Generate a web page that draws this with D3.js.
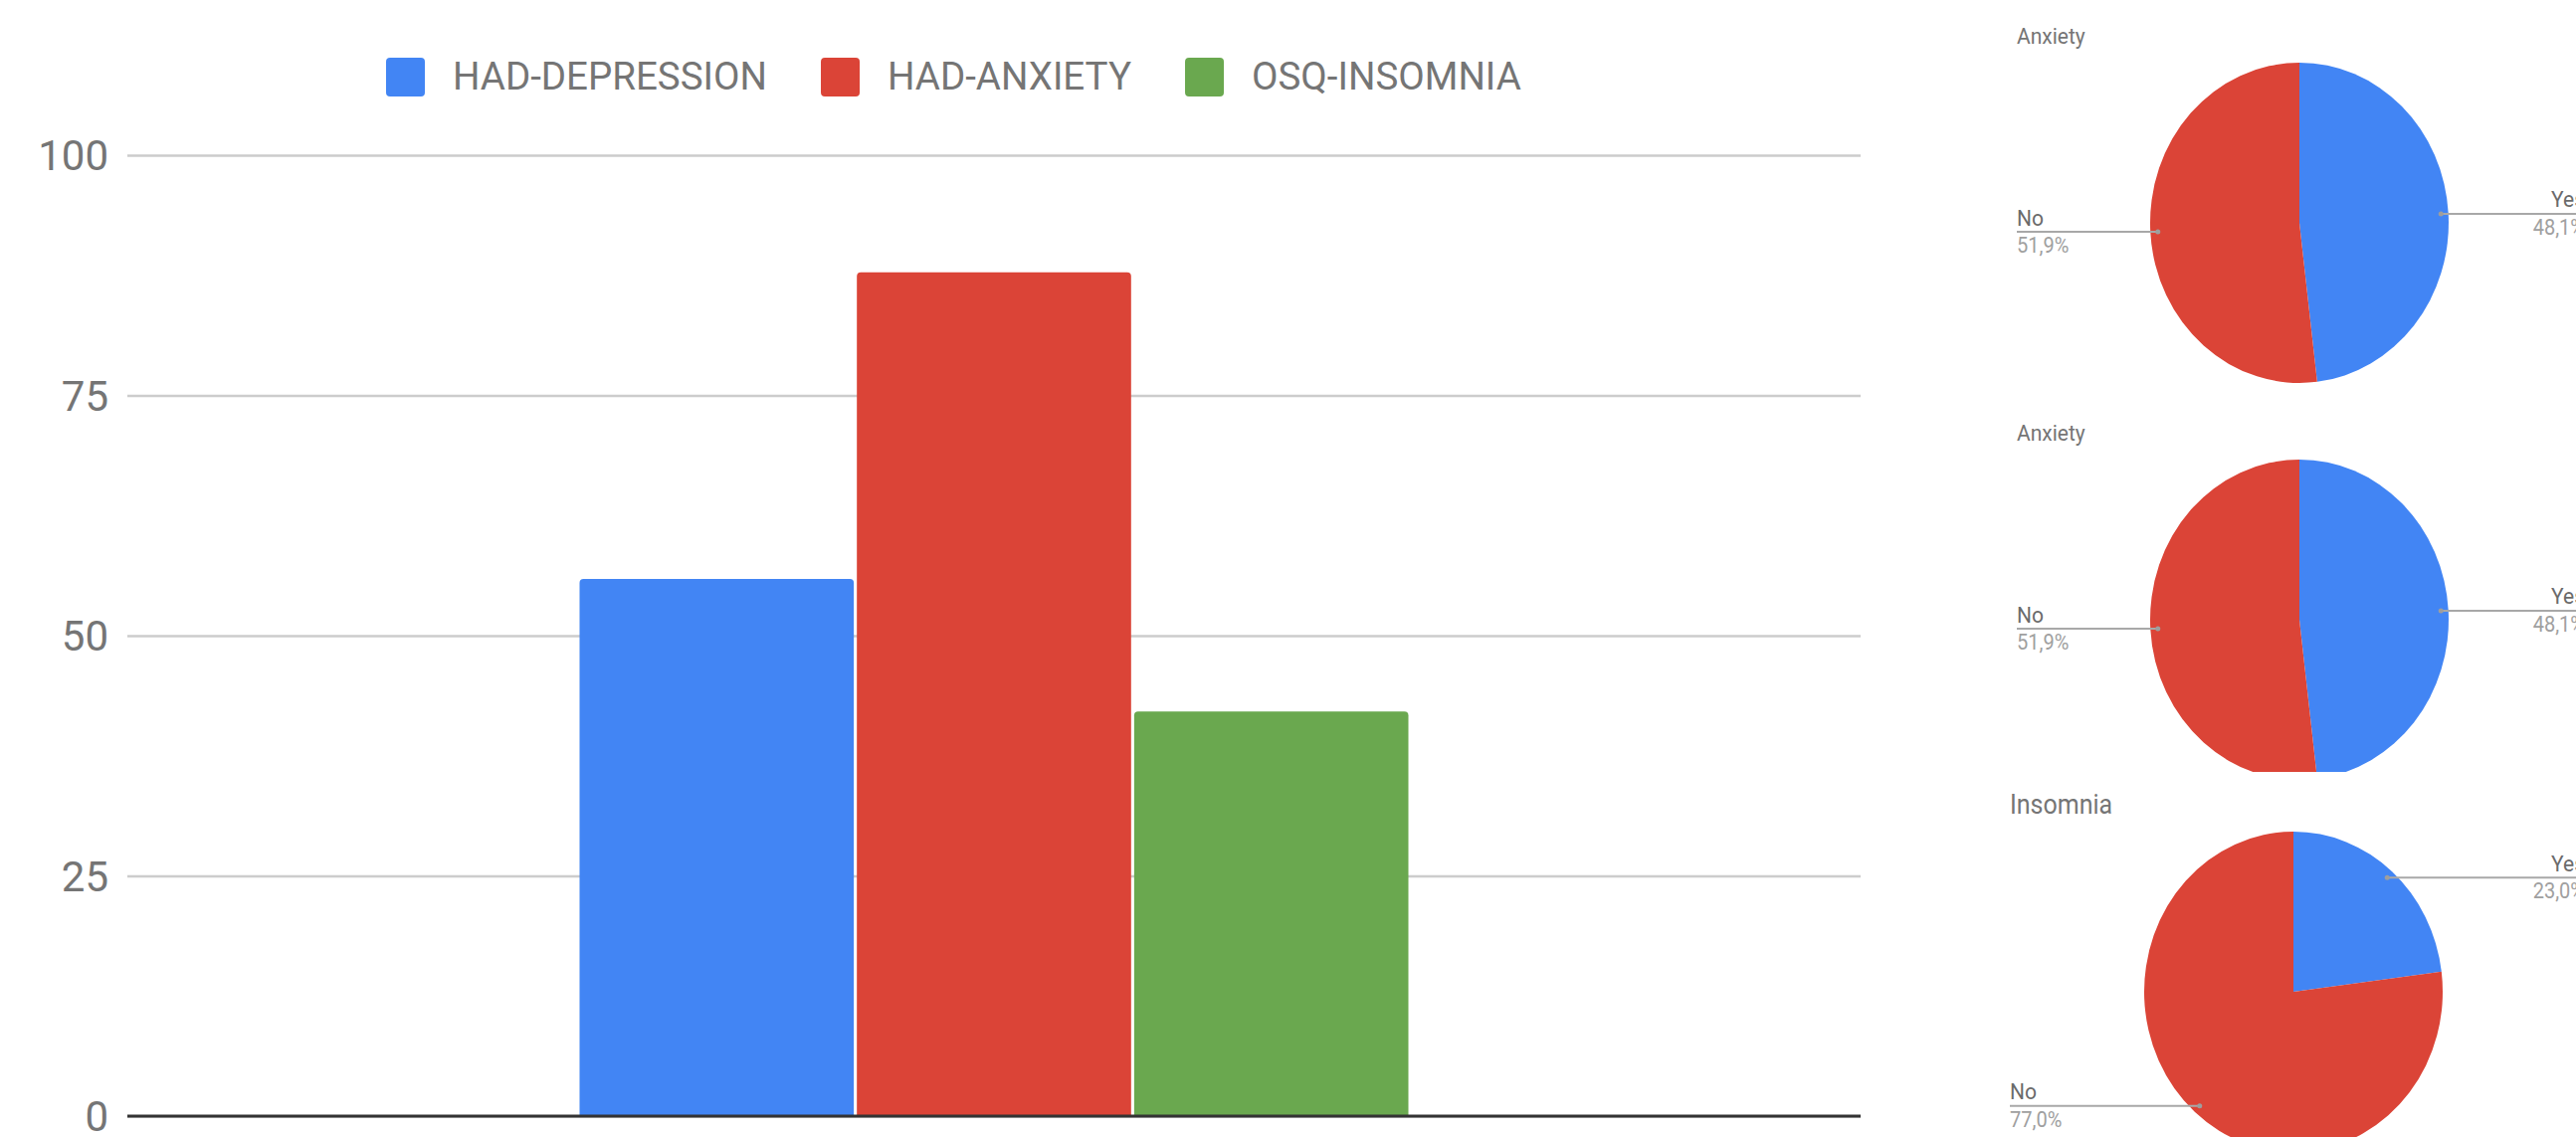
<!DOCTYPE html>
<html>
<head>
<meta charset="utf-8">
<script src="https://cdn.jsdelivr.net/npm/d3@7/dist/d3.min.js"></script>
<style>
  html, body { margin: 0; padding: 0; background: #fff; }
  svg { display: block; font-family: Roboto, "Noto Sans", sans-serif; }
</style>
</head>
<body>
<svg id="chart" width="2589" height="1143"></svg>
<script>
// ---- bar chart data ----
const barCategories = [""];
const seriesNames = ["HAD-DEPRESSION", "HAD-ANXIETY", "OSQ-INSOMNIA"];
const seriesValues = [55.9, 87.8, 42.1];
const seriesColors = ["#4285F4", "#DB4437", "#6AA84F"];
const yTicks = [0, 25, 50, 75, 100];

// ---- pie chart data ----
const pieTitles = ["Anxiety", "Anxiety", "Insomnia"];
const pieSliceNames = ["Yes", "No"];
const pieYes = [48.1, 48.1, 23.0];
const pieNo = [51.9, 51.9, 77.0];
const pieColors = ["#4285F4", "#DB4437"];

const svg = d3.select("#chart");

// ================= bar chart =================
const plot = { left: 128, right: 1870, top: 156, bottom: 1122 };

const y = d3.scaleLinear().domain([0, 100]).range([plot.bottom, plot.top]);
const x0 = d3.scaleBand().domain(barCategories)
  .range([plot.left, plot.right]).paddingInner(0).paddingOuter(0.5456);
const x1 = d3.scaleBand().domain(seriesNames)
  .range([0, x0.bandwidth()]).paddingInner(0.011);
const color = d3.scaleOrdinal().domain(seriesNames).range(seriesColors);

// gridlines and tick labels
const yAxis = d3.axisLeft(y).tickValues(yTicks)
  .tickSize(-(plot.right - plot.left)).tickPadding(19)
  .tickFormat(d3.format("d"));
const gy = svg.append("g")
  .attr("transform", `translate(${plot.left},0)`)
  .call(yAxis);
gy.select(".domain").remove();
gy.selectAll(".tick line").attr("stroke", "#cccccc").attr("stroke-width", 2.7);
gy.selectAll(".tick text")
  .attr("fill", "#757575").attr("font-size", 42)
  .attr("font-family", "Roboto, sans-serif")
  .attr("dy", "0.35em");

// bars with slightly rounded tops
function topRounded(x, yTop, w, h, r) {
  r = Math.min(r, w / 2, h);
  return `M${x},${yTop + h}V${yTop + r}Q${x},${yTop} ${x + r},${yTop}` +
         `H${x + w - r}Q${x + w},${yTop} ${x + w},${yTop + r}V${yTop + h}Z`;
}
const barData = seriesNames.map((name, i) => ({ cat: barCategories[0], name, value: seriesValues[i] }));
svg.append("g").selectAll("path")
  .data(barData)
  .join("path")
  .attr("fill", d => color(d.name))
  .attr("d", d => {
    const bx = x0(d.cat) + x1(d.name);
    return topRounded(bx, y(d.value), x1.bandwidth(), y(0) - y(d.value), 4);
  });

// baseline
svg.append("line")
  .attr("x1", plot.left).attr("x2", plot.right)
  .attr("y1", y(0)).attr("y2", y(0))
  .attr("stroke", "#333").attr("stroke-width", 3);

// legend
const legend = svg.append("g").attr("transform", "translate(388,58)");
let lx = 0;
seriesNames.forEach(name => {
  const item = legend.append("g").attr("transform", `translate(${lx},0)`);
  item.append("rect").attr("width", 39).attr("height", 39).attr("rx", 4)
    .attr("fill", color(name));
  const t = item.append("text").attr("x", 67).attr("y", 32)
    .attr("fill", "#757575").attr("font-size", 38.5).text(name);
  lx += 67 + t.node().getComputedTextLength() + 54;
});

// ================= pie charts =================
const pies = [
  { cx: 2311, cy: 224, titleX: 2027, titleY: 44, titleSize: 21, labelX: 2027, clipTop: 0, clipBottom: 400 },
  { cx: 2311, cy: 623, titleX: 2027, titleY: 443, titleSize: 21, labelX: 2027, clipTop: 400, clipBottom: 776 },
  { cx: 2305, cy: 997, titleX: 2020, titleY: 818, titleSize: 25, labelX: 2020, clipTop: 776, clipBottom: 1143 }
];
const rx = 150, ry = 161;
const stretch = ry / rx;
const pieGen = d3.pie().sort(null).value(d => d.value);
const arcGen = d3.arc().innerRadius(0).outerRadius(rx);
const fmtPct = v => d3.format(".1f")(v).replace(".", ",") + "%";

// text drawn with the same vertical stretch as the pies
function stretchedText(parent, x, yPos, str, size, fill, anchor) {
  return parent.append("text")
    .attr("transform", `translate(${x},${yPos}) scale(1,${stretch})`)
    .attr("text-anchor", anchor || "start")
    .attr("fill", fill).attr("font-size", size).text(str);
}

pies.forEach((p, i) => {
  const data = [
    { name: pieSliceNames[0], value: pieYes[i], color: pieColors[0] },
    { name: pieSliceNames[1], value: pieNo[i], color: pieColors[1] }
  ];
  const clipId = "pieclip" + i;
  svg.append("clipPath").attr("id", clipId)
    .append("rect").attr("x", 1930).attr("y", p.clipTop)
    .attr("width", 700).attr("height", p.clipBottom - p.clipTop);
  const panel = svg.append("g").attr("clip-path", `url(#${clipId})`);

  stretchedText(panel, p.titleX, p.titleY, pieTitles[i], p.titleSize, "#757575");

  const arcs = pieGen(data);
  panel.append("g")
    .attr("transform", `translate(${p.cx},${p.cy}) scale(1,${stretch})`)
    .selectAll("path").data(arcs).join("path")
    .attr("d", arcGen).attr("fill", d => d.data.color);

  arcs.forEach(a => {
    const mid = (a.startAngle + a.endAngle) / 2;
    const ax = p.cx + 0.95 * rx * Math.sin(mid);
    const ay = p.cy - 0.95 * ry * Math.cos(mid);
    const right = Math.sin(mid) > 0;
    const endX = right ? 2600 : p.labelX;
    panel.append("line").attr("x1", ax).attr("y1", ay).attr("x2", endX).attr("y2", ay)
      .attr("stroke", "#a8a8a8").attr("stroke-width", 2);
    panel.append("circle").attr("cx", ax).attr("cy", ay).attr("r", 2.5).attr("fill", "#9e9e9e");
    const tx = right ? 2598 : p.labelX;
    const anchor = right ? "end" : "start";
    stretchedText(panel, tx, ay - 6.5, a.data.name, 21, "#6b6b6b", anchor);
    stretchedText(panel, tx, ay + 21, fmtPct(a.data.value), 20, "#a0a0a0", anchor);
  });
});
</script>
</body>
</html>
